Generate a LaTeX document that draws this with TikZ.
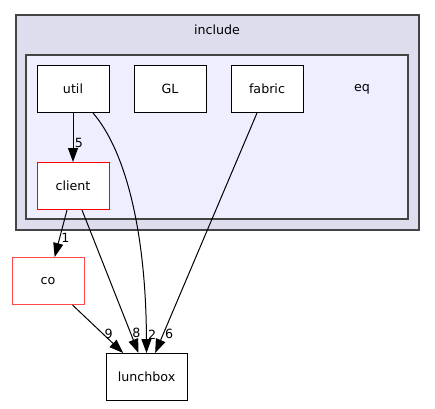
\documentclass[tikz,border=0pt]{standalone}
\usepackage{fontspec}
\setmainfont{DejaVu Sans}
\usepackage{xcolor}
\definecolor{includefill}{HTML}{DDDDEE}
\definecolor{eqfill}{HTML}{EEEEFF}
\definecolor{clusterline}{HTML}{444444}
\definecolor{coline}{HTML}{FF4848}
\usetikzlibrary{arrows.meta,positioning}

\begin{document}
\begin{tikzpicture}[x=0.75pt,y=-0.75pt,
					font=\fontsize{9.5}{11}\selectfont,
					line width=0.75pt,
					node distance=36.75pt,
					cluster/.style={draw=clusterline,line width=1.1pt},
					dir node/.style={draw=black,fill=white,minimum width=54pt,minimum height=35.25pt,inner sep=0pt},
					red node/.style={dir node,draw=red},
					dep/.style={-{Triangle[length=10.5pt,width=7.5pt]}},
					num/.style={inner sep=1pt,right}]

  \useasboundingbox (0,0) rectangle (435,408);

  % clusters
  \draw[cluster,fill=includefill] (16,15) rectangle (419,230);
  \node (include) at (217,30) {include};
  \draw[cluster,fill=eqfill] (26,55) rectangle (408,219);
  \node (eq) at (362,89) {eq};

  % directories
  \node[dir node] (util) at (73,89) {util};
  \node[dir node] (GL) [right=18pt of util] {GL};
  \node[dir node] (fabric) [right=18pt of GL] {fabric};
  \node[red node] (client) [below=of util] {client};
  \node[red node,draw=coline] (co) at (48,281) {co};
  \node[dir node,minimum width=60.75pt] (lunchbox) at (146.5,377) {lunchbox};

  % dependencies
  \draw[dep] (util.south) -- (client.north) node[num,pos=0.62] {5};
  \draw[dep] ([xshift=15pt]util.south) .. controls (125,150) and (146,230) .. (lunchbox.north) node[num,pos=0.95] {2};
  \draw[dep] ([xshift=-4.5pt]client.south) -- ([xshift=5pt]co.north) node[num,pos=0.6] {1};
  \draw[dep] ([xshift=6.75pt]client.south) -- ([xshift=-6pt]lunchbox.north) node[num,pos=0.86] {8};
  \draw[dep] (co.south east) ++(-9pt,0) -- ([xshift=-17.5pt]lunchbox.north) node[num,pos=0.6] {9};
  \draw[dep] ([xshift=-7.5pt]fabric.south) -- ([xshift=6.5pt]lunchbox.north) node[num,pos=0.92] {6};
\end{tikzpicture}
\end{document}
